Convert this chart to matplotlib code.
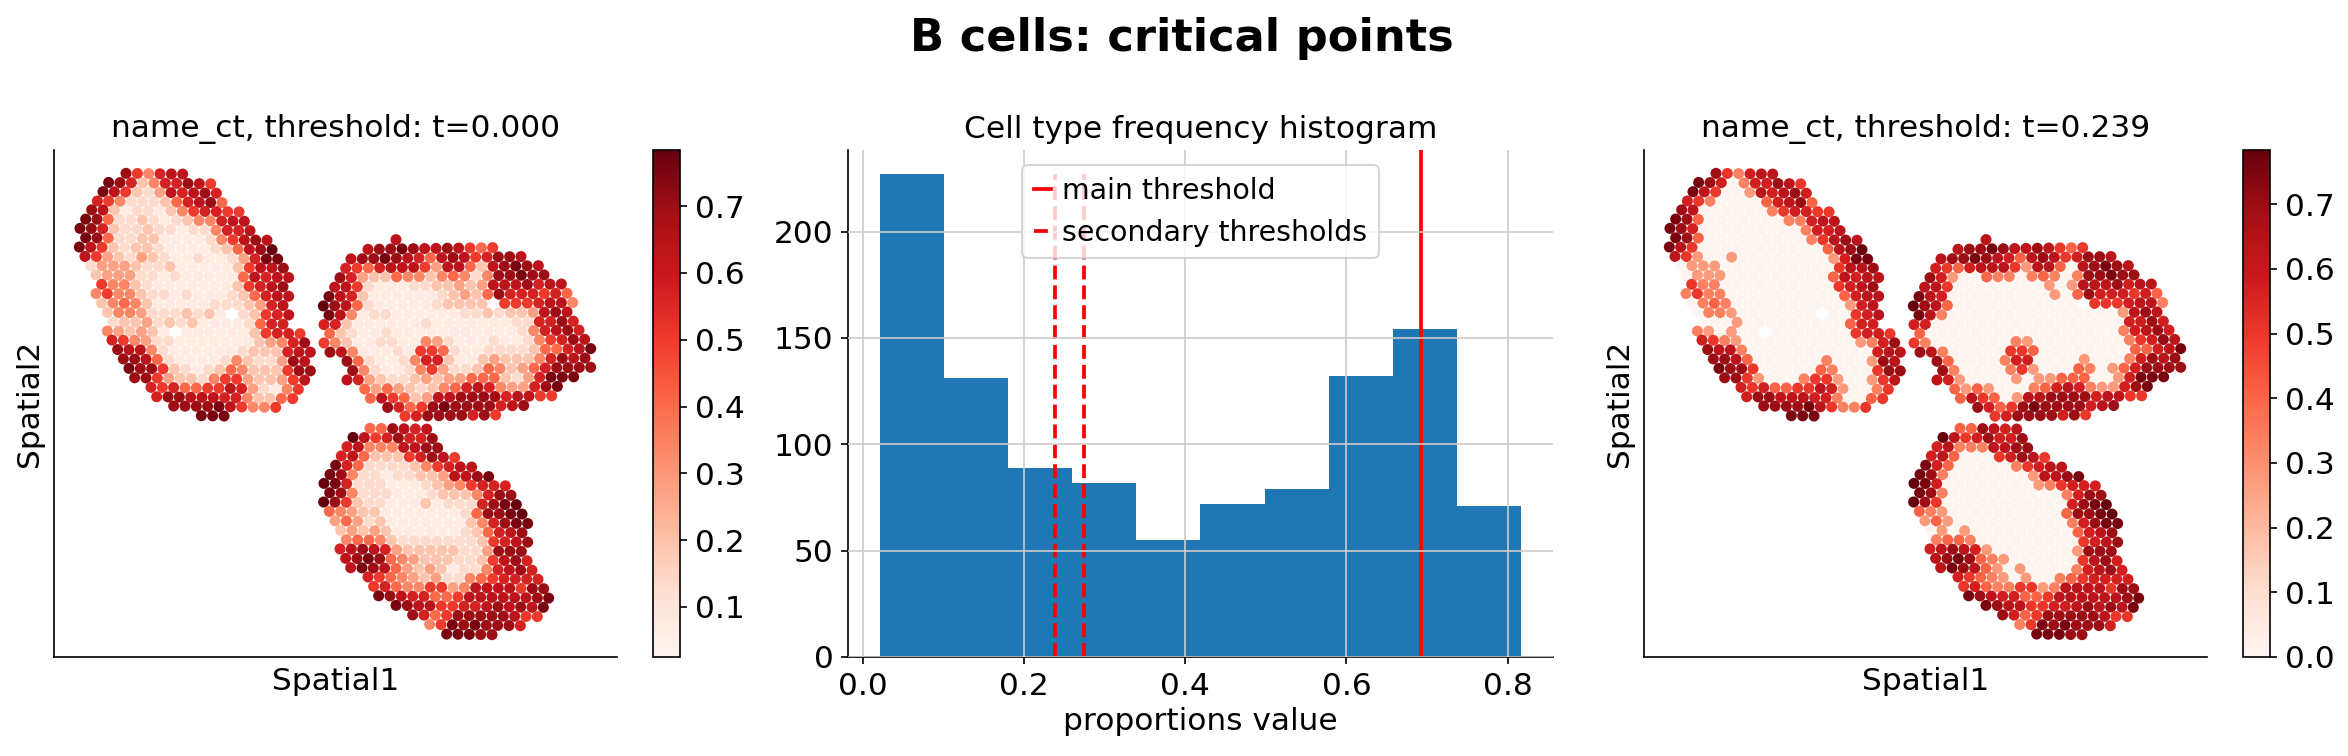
# Critical points of the B cell proportions: spatial maps and histogram

import matplotlib
matplotlib.use('Agg')
import matplotlib.pyplot as plt
import numpy as np

# proportion assigned to each level character in the spot rows below, '.' is a missing spot
LEVELS = {'1': 0.07, '2': 0.13, '3': 0.19, '4': 0.275, '5': 0.335, '6': 0.405, '7': 0.50,
          '8': 0.57, '9': 0.63, 'a': 0.70, 'b': 0.755, 'c': 0.784}
MIN_VALUE = 0.025

# tissue section 1
SEC1_ORIGIN = (0, 0)
SEC1_REF_X  = 258
SEC1_TILT   = 0.0137
SEC1_Y = [100, 128, 156, 184, 211, 239, 267, 295, 323, 351, 378, 406, 434, 462, 490, 518, 546,
          574, 601, 629, 657, 685, 713, 741, 769, 796, 824]
SEC1_X = [258, 206, 189, 172, 155, 137, 120, 137, 118, 135, 152, 168, 185, 168, 185, 202, 219,
          202, 216, 233, 250, 267, 284, 333, 350, 401, 484]
SEC1_ROWS = [
    'a75899', 'ba83588a97', 'b97324989a8', '8752223689a6', 'a9312213578877',
    'ba6223212355899', 'ba83223221225889', 'ba6223311112579a9', 'b973233211112369ac',
    '9743243211211248bb', '24443223111113799a', '344422121111169899',
    '7553211111113789a', '575532212111236899', '35653111112223489',
    '35542223231.23789', '2334232311112688', '543431.11111137887',
    '87542211111113458a', 'a99521111112333899', 'aa9621111253224a9',
    'baa732123653337aa', 'aa74332577433479', '87866779842157', '8aa9998853367',
    'aaaab97557', 'bbb',
]

# tissue section 2
SEC2_ORIGIN = (780, 180)
SEC2_REF_X  = 204
SEC2_TILT   = -0.0137
SEC2_Y = [120, 148, 176, 204, 232, 260, 288, 316, 344, 372, 399, 427, 455, 483, 511, 539, 567,
          595, 623, 650]
SEC2_X = [288, 204, 153, 137, 120, 104, 87, 70, 87, 72, 89, 72, 90, 141, 158, 141, 194, 211,
          263, 315]
SEC2_ROWS = [
    '9', '9aaba99a9767', '9aaba9869a978aa9', '87689997499639aba9', 'a8433655356525aabaa',
    '99721112233434999a899', 'b98311111123436a888786',
    'ca9621111123333.7778995', 'b9512211111122323349a9',
    '883111111211111112288a8', '632112111111111112589a8',
    '7531122115421112112578a9', 'a9511121776211222236689b',
    'a621125883113433358a9a', 'a52112574223653468aaaa', '984322343446663248bbb',
    '6464323568985448ab', '69763499aaaa89977', 'a867abaaaa89a', '78aaaa8a7',
]

# tissue section 3
SEC3_ORIGIN = (780, 810)
SEC3_REF_X  = 210
SEC3_TILT   = 0.0137
SEC3_Y = [55, 83, 111, 139, 167, 195, 222, 250, 278, 306, 334, 362, 390, 418, 446, 474, 501,
          529, 557, 585, 613, 641, 669]
SEC3_X = [210, 159, 141, 124, 107, 90, 72, 89, 71, 88, 105, 122, 139, 120, 137, 152, 204, 221,
          236, 288, 338, 389, 440]
SEC3_ROWS = [
    '66a989', 'c978a88a', '8955599aa', '89633378a97', 'b862222357899', 'ba52212233499ab',
    'cb822211123457888', 'ba5222111233358aa', 'ca7322111312228abc', '65433111111126aabc',
    '464231111111358abb', '3434311111123689a', '5665322222223789a', '89a98433333224aaa',
    '9aba65433322379a8', '9ba964343122589a8', '8765434225678888', '78655774599997aa',
    'ba988667999999ab', 'ba9977889a9a9b', 'a867aaaaa977', '57babaaa8', 'bbbaa',
]

# histogram of the proportions
BIN_EDGES = [0.0215, 0.1010, 0.1805, 0.2600, 0.3395, 0.4190, 0.4985, 0.5780, 0.6575, 0.7370, 0.8165]
BIN_COUNTS = [227, 131, 89, 82, 55, 72, 79, 132, 154, 71]
HIST_TICKS = [0.0, 0.2, 0.4, 0.6, 0.8]
MAIN_THRESHOLD = 0.693
SECONDARY_THRESHOLDS = [0.239, 0.274]

SPOT_STEP = 34.0
W, H = 2348, 756


def collect_spots():
    xs, ys, vals = [], [], []
    sections = [
        (SEC1_ORIGIN, SEC1_REF_X, SEC1_TILT, SEC1_Y, SEC1_X, SEC1_ROWS),
        (SEC2_ORIGIN, SEC2_REF_X, SEC2_TILT, SEC2_Y, SEC2_X, SEC2_ROWS),
        (SEC3_ORIGIN, SEC3_REF_X, SEC3_TILT, SEC3_Y, SEC3_X, SEC3_ROWS),
    ]
    for origin, ref_x, tilt, row_y, row_x, rows in sections:
        for y0, x0, row in zip(row_y, row_x, rows):
            for i, ch in enumerate(row):
                if ch == '.':
                    continue
                x = x0 + i * SPOT_STEP
                xs.append(x + origin[0])
                ys.append(y0 + tilt * (x - ref_x) + origin[1])
                vals.append(LEVELS[ch])
    return np.array(xs), np.array(ys), np.array(vals)


def px_axes(fig, left, top, right, bottom):
    return fig.add_axes([left / W, 1 - bottom / H, (right - left) / W, (bottom - top) / H])


def draw_spatial(fig, left, values, vmin, vmax, title):
    xs, ys, _ = SPOTS
    ax = px_axes(fig, left, 150, left + 563, 657)
    sc = ax.scatter(xs, ys, c=values, s=28, cmap='Reds', vmin=vmin, vmax=vmax, linewidths=0)
    ax.set_xlim(42, 1731)
    ax.set_ylim(1551, 30)
    ax.set_xticks([])
    ax.set_yticks([])
    ax.spines['top'].set_visible(False)
    ax.spines['right'].set_visible(False)
    ax.set_xlabel('Spatial1', fontsize=15, labelpad=5)
    ax.set_ylabel('Spatial2', fontsize=15, labelpad=5)
    ax.set_title(title, fontsize=15, pad=6)

    cax = px_axes(fig, left + 599, 150, left + 626, 657)
    cbar = fig.colorbar(sc, cax=cax)
    cbar.ax.tick_params(labelsize=15)
    return ax


SPOTS = collect_spots()


def main():
    values = SPOTS[2]
    above = np.where(values < SECONDARY_THRESHOLDS[0], 0.0, values)

    fig = plt.figure(figsize=(W / 150, H / 150), dpi=150)

    draw_spatial(fig, 54, values.clip(MIN_VALUE), MIN_VALUE, 0.784, 'name_ct, threshold: t=0.000')
    draw_spatial(fig, 1644, above, 0.0, 0.784, 'name_ct, threshold: t=0.239')

    ax = px_axes(fig, 848, 150, 1553, 657)
    ax.set_axisbelow(False)
    ax.hist(BIN_EDGES[:-1], bins=BIN_EDGES, weights=BIN_COUNTS, color='#1f77b4')
    ax.set_xticks(HIST_TICKS)
    ax.grid(True, color='#cccccc', linewidth=0.8)
    ax.axvline(MAIN_THRESHOLD, color='red', linewidth=1.8, label='main threshold')
    ax.vlines(SECONDARY_THRESHOLDS, 0, max(BIN_COUNTS), colors='red', linestyles='dashed',
              linewidth=1.8, label='secondary thresholds')
    ax.spines['top'].set_visible(False)
    ax.spines['right'].set_visible(False)
    ax.tick_params(labelsize=15)
    ax.set_xlabel('proportions value', fontsize=15, labelpad=3)
    ax.set_title('Cell type frequency histogram', fontsize=15, pad=6)
    ax.legend(loc='upper center', fontsize=13.6, handlelength=0.6, handletextpad=0.4,
              borderaxespad=0, bbox_to_anchor=(0.5, 0.97))

    fig.suptitle('B cells: critical points', fontsize=21.5, fontweight='bold', x=0.5035, y=0.978)
    fig.savefig('out.png', dpi=150)


if __name__ == '__main__':
    main()
